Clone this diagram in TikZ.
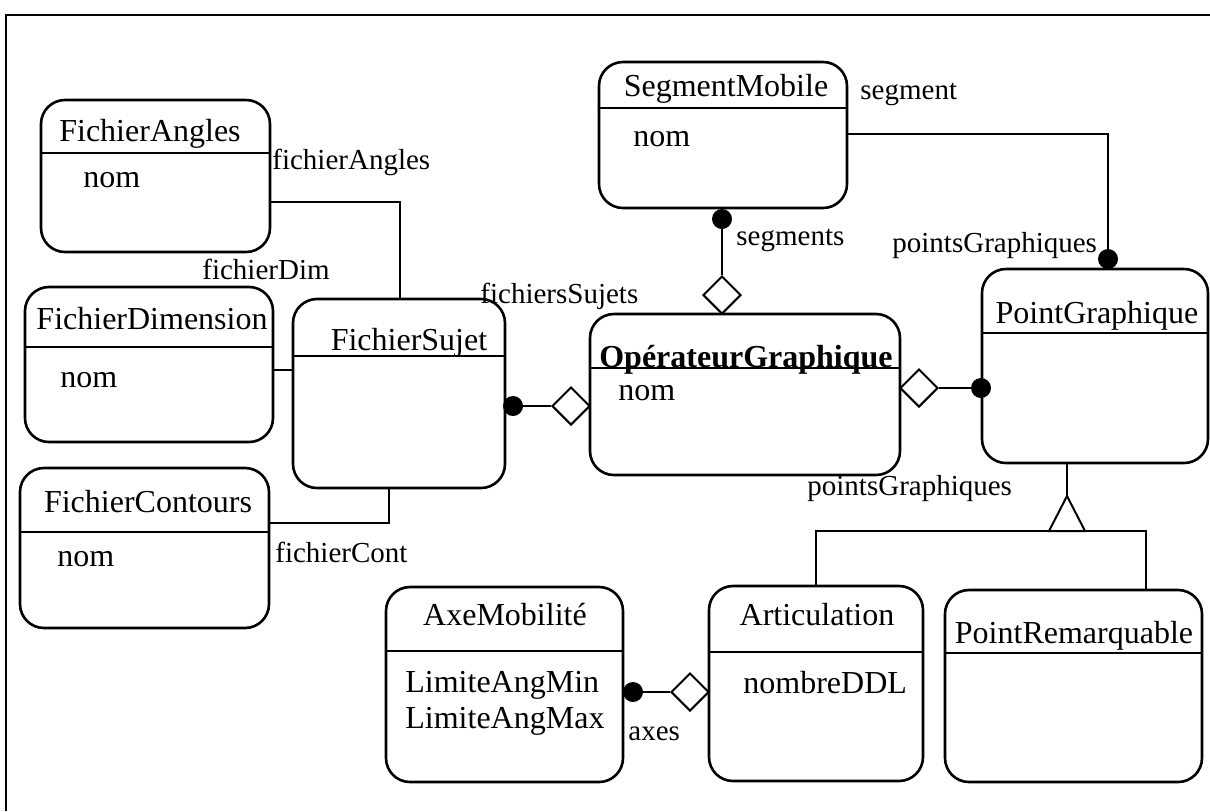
\documentclass[tikz,border=0pt]{standalone}
\usepackage{fontspec}
\setmainfont{Liberation Serif}
\usetikzlibrary{shapes.geometric}

\begin{document}
\begin{tikzpicture}[x=0.5pt,y=-0.5pt]
\tikzstyle{every node}+=[inner sep=0pt]
\tikzstyle{classbox}=[draw=black,line width=1.3pt,rounded corners=12pt]
\tikzstyle{ctitle}=[anchor=base,font=\fontsize{16}{19}\selectfont]
\tikzstyle{cattr}=[anchor=base west,font=\fontsize{16}{19}\selectfont]
\tikzstyle{role}=[anchor=base west,font=\fontsize{14.5}{17}\selectfont]
\tikzstyle{dot}=[circle,fill=black,minimum size=10pt]
\tikzstyle{aggr}=[diamond,draw=black,line width=1pt,fill=white,minimum width=19pt,minimum height=19pt]
\tikzstyle{link}=[line width=1pt]
\tikzstyle{sep}=[line width=1.1pt]
\useasboundingbox (0,0) rectangle (1210,811);
\draw [line width=1.4pt] (6,811) -- (6,15) -- (1210,15);
\node [classbox,minimum width=114.5pt,minimum height=76pt] (fa) at (155.5,176) {};
\draw [sep] (fa.west |- 0,153) -- (fa.east |- 0,153);
\node [ctitle] (fatitle) at (150,141) {FichierAngles};
\node [cattr] (fanom) at (83,187) {nom};
\node [classbox,minimum width=124pt,minimum height=77.5pt] (fd) at (149,364.5) {};
\draw [sep] (fd.west |- 0,347) -- (fd.east |- 0,347);
\node [ctitle] (fdtitle) at (152,329) {FichierDimension};
\node [cattr] (fdnom) at (60,387) {nom};
\node [classbox,minimum width=124.5pt,minimum height=80pt] (fc) at (144.5,548) {};
\draw [sep] (fc.west |- 0,532) -- (fc.east |- 0,532);
\node [ctitle] (fctitle) at (148,512) {FichierContours};
\node [cattr] (fcnom) at (57,566) {nom};
\node [classbox,minimum width=106pt,minimum height=94.5pt] (fs) at (399,393.5) {};
\draw [sep] (fs.west |- 0,356) -- (fs.east |- 0,356);
\node [ctitle] (fstitle) at (409,350) {FichierSujet};
\node [classbox,minimum width=124pt,minimum height=73pt] (sm) at (723,135) {};
\draw [sep] (sm.west |- 0,108) -- (sm.east |- 0,108);
\node [ctitle] (smtitle) at (726,96) {SegmentMobile};
\node [cattr] (smnom) at (633,146) {nom};
\node [classbox,minimum width=155pt,minimum height=80.5pt] (og) at (745,394.5) {};
\draw [sep] (og.west |- 0,368) -- (og.east |- 0,368);
\node [ctitle,font=\fontsize{16}{19}\selectfont\bfseries] (ogtitle) at (746,367) {OpérateurGraphique};
\node [cattr] (ognom) at (618,400) {nom};
\node [classbox,minimum width=113pt,minimum height=97pt] (pg) at (1095,366) {};
\draw [sep] (pg.west |- 0,333) -- (pg.east |- 0,333);
\node [ctitle] (pgtitle) at (1097,323) {PointGraphique};
\node [classbox,minimum width=118.5pt,minimum height=97.5pt] (am) at (504.5,684.5) {};
\draw [sep] (am.west |- 0,651) -- (am.east |- 0,651);
\node [ctitle] (amtitle) at (505,625) {AxeMobilité};
\node [cattr] (ammin) at (405,692) {LimiteAngMin};
\node [cattr] (ammax) at (405,728) {LimiteAngMax};
\node [classbox,minimum width=107pt,minimum height=97.5pt] (ar) at (816,683.5) {};
\draw [sep] (ar.west |- 0,652) -- (ar.east |- 0,652);
\node [ctitle] (artitle) at (817,625) {Articulation};
\node [cattr] (arddl) at (743,693) {nombreDDL};
\node [classbox,minimum width=128.5pt,minimum height=96pt] (pr) at (1073.5,686) {};
\draw [sep] (pr.west |- 0,653) -- (pr.east |- 0,653);
\node [ctitle] (prtitle) at (1074,643) {PointRemarquable};
\draw [link] (fa.east |- 0,202) -| (fs.north -| 400,0);
\draw [link] (fd.east |- 0,370) -- (fs.west |- 0,370);
\draw [link] (fc.east |- 0,523) -| (fs.south -| 389,0);
\node [role] (lfa) at (272,169) {fichierAngles};
\node [role] (lfd) at (202,279) {fichierDim};
\node [role] (lfc) at (275,562) {fichierCont};
\node [dot] (fsdot) at (513,406) {};
\node [aggr] (ogleft) at (571,406) {};
\draw [link] (fsdot) -- (ogleft);
\node [role] (lfs) at (480,303) {fichiersSujets};
\node [dot] (smdot) at (722,219) {};
\node [aggr] (ogtop) at (722,295) {};
\draw [link] (smdot) -- (ogtop);
\node [role] (lsegs) at (736,245) {segments};
\node [dot] (pgdot) at (1108,259) {};
\draw [link] (sm.east |- 0,134) -| (pgdot);
\node [role] (lseg) at (860,99) {segment};
\node [role] (lpg) at (892,252) {pointsGraphiques};
\node [aggr] (ogright) at (919,388) {};
\node [dot] (pgleft) at (981,388) {};
\draw [link] (ogright) -- (pgleft);
\node [role] (lpg2) at (807,495) {pointsGraphiques};
\node [aggr] (arleft) at (690,692) {};
\node [dot] (amdot) at (633,692) {};
\draw [link] (arleft) -- (amdot);
\node [role] (laxes) at (628,740) {axes};
\coordinate (genapex) at (1067,496);
\coordinate (genbase) at (1067,531);
\draw [link] (pg.south -| genapex) -- (genapex);
\draw [link] (ar.north) |- (genbase) -| (pr.north -| 1146,0);
\draw [link,fill=white] (genapex) -- ++(-18,35) -- ++(36,0) -- cycle;
\end{tikzpicture}
\end{document}
